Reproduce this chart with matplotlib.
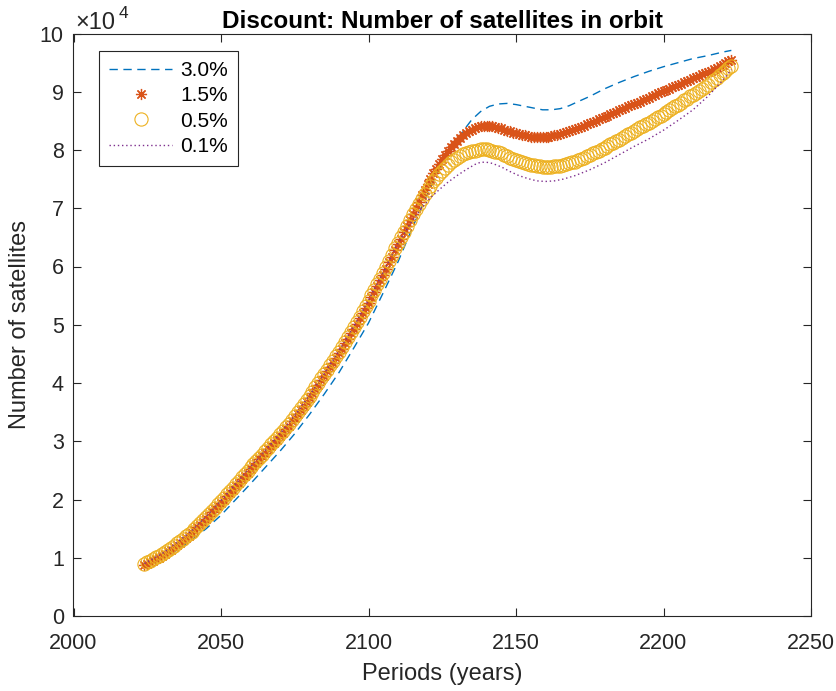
import numpy as np
import matplotlib
matplotlib.use("Agg")
import matplotlib.pyplot as plt

plt.rcParams['font.family'] = ['Liberation Sans', 'DejaVu Sans']

# ---------------- data (values in units of 1e4 satellites) ----------------
years = list(range(2024, 2224))

disc_15 = [
    0.87, 0.89, 0.92, 0.95, 0.98, 1.00, 1.03, 1.07, 1.11, 1.14, 1.18, 1.22, 1.26, 1.30, 1.34, 1.38,
    1.42, 1.47, 1.52, 1.57, 1.62, 1.67, 1.72, 1.78, 1.83, 1.89, 1.94, 2.00, 2.06, 2.11, 2.17, 2.23,
    2.29, 2.35, 2.40, 2.46, 2.52, 2.58, 2.63, 2.69, 2.74, 2.80, 2.86, 2.92, 2.97, 3.03, 3.09, 3.15,
    3.21, 3.27, 3.34, 3.40, 3.47, 3.54, 3.61, 3.68, 3.75, 3.82, 3.90, 3.97, 4.05, 4.12, 4.20, 4.28,
    4.35, 4.43, 4.51, 4.59, 4.68, 4.76, 4.85, 4.93, 5.02, 5.11, 5.20, 5.29, 5.38, 5.48, 5.57, 5.67,
    5.76, 5.86, 5.96, 6.07, 6.17, 6.28, 6.38, 6.48, 6.59, 6.69, 6.80, 6.90, 7.01, 7.11, 7.22, 7.32,
    7.42, 7.51, 7.60, 7.68, 7.76, 7.84, 7.91, 7.98, 8.05, 8.11, 8.16,
    8.21, 8.25, 8.29, 8.32, 8.35,
    8.38, 8.40, 8.41, 8.42, 8.42, 8.42, 8.41, 8.40, 8.38, 8.37, 8.35, 8.33, 8.32, 8.30, 8.29, 8.27,
    8.26, 8.25, 8.24, 8.23, 8.22, 8.22, 8.22, 8.22, 8.22, 8.23, 8.24, 8.25, 8.26, 8.27, 8.29, 8.31,
    8.32, 8.34, 8.36, 8.38, 8.40, 8.42, 8.44, 8.46, 8.48, 8.50, 8.53, 8.55, 8.57, 8.59, 8.61, 8.64,
    8.66, 8.68, 8.70, 8.72, 8.75, 8.77, 8.79, 8.81, 8.83, 8.86, 8.88, 8.90, 8.92, 8.94, 8.97, 8.99,
    9.01, 9.03, 9.05, 9.08, 9.10, 9.12, 9.14, 9.16, 9.19, 9.21, 9.23, 9.25, 9.27, 9.30, 9.32, 9.34,
    9.36, 9.39, 9.41, 9.44, 9.46, 9.49, 9.52, 9.55,
]

disc_05 = [
    0.90, 0.92, 0.95, 0.98, 1.01, 1.03, 1.06, 1.10, 1.14, 1.17, 1.21, 1.25, 1.29, 1.33, 1.37, 1.41,
    1.45, 1.50, 1.55, 1.60, 1.65, 1.70, 1.75, 1.81, 1.86, 1.92, 1.97, 2.03, 2.09, 2.14, 2.20, 2.26,
    2.32, 2.38, 2.43, 2.49, 2.55, 2.61, 2.66, 2.72, 2.77, 2.83, 2.89, 2.95, 3.00, 3.06, 3.12, 3.18,
    3.24, 3.30, 3.37, 3.43, 3.50, 3.57, 3.64, 3.71, 3.78, 3.85, 3.93, 4.00, 4.08, 4.15, 4.23, 4.31,
    4.38, 4.46, 4.54, 4.62, 4.71, 4.79, 4.88, 4.96, 5.05, 5.14, 5.23, 5.32, 5.41, 5.51, 5.60, 5.70,
    5.79, 5.89, 5.99, 6.10, 6.20, 6.31, 6.41, 6.50, 6.60, 6.70, 6.80, 6.90, 6.99, 7.08, 7.16, 7.24,
    7.32, 7.39, 7.46, 7.52, 7.58, 7.64, 7.69, 7.74, 7.79, 7.83, 7.87,
    7.90, 7.93, 7.95, 7.97, 7.98,
    7.99, 8.00, 8.01, 8.01, 8.01, 8.00, 7.99, 7.97, 7.96, 7.94, 7.92, 7.89, 7.87, 7.85, 7.83, 7.81,
    7.79, 7.78, 7.76, 7.75, 7.74, 7.73, 7.72, 7.71, 7.71, 7.71, 7.71, 7.72, 7.72, 7.73, 7.74, 7.76,
    7.77, 7.79, 7.80, 7.82, 7.84, 7.86, 7.89, 7.91, 7.94, 7.96, 7.99, 8.01, 8.04, 8.07, 8.10, 8.12,
    8.15, 8.18, 8.21, 8.24, 8.27, 8.30, 8.33, 8.36, 8.39, 8.41, 8.44, 8.47, 8.50, 8.53, 8.56, 8.59,
    8.62, 8.65, 8.68, 8.72, 8.75, 8.78, 8.81, 8.85, 8.88, 8.92, 8.95, 8.98, 9.02, 9.05, 9.09, 9.12,
    9.16, 9.20, 9.24, 9.28, 9.32, 9.36, 9.41, 9.45,
]

years_30 = [2024, 2030, 2035, 2040, 2045, 2050, 2055, 2060, 2065, 2070, 2075, 2080, 2085, 2090,
            2095, 2100, 2105, 2110, 2115, 2120, 2123, 2126, 2129, 2132, 2135, 2138, 2141, 2144,
            2147, 2150, 2153, 2156, 2159, 2162, 2165, 2168, 2171, 2175, 2180, 2185, 2190, 2195,
            2200, 2205, 2210, 2215, 2220, 2223]
disc_30 = [0.84, 0.98, 1.13, 1.30, 1.50, 1.73, 2.00, 2.27, 2.55, 2.83, 3.13, 3.46, 3.81, 4.18,
           4.60, 5.03, 5.55, 6.08, 6.68, 7.25, 7.58, 7.86, 8.10, 8.32, 8.52, 8.66, 8.75, 8.79,
           8.80, 8.78, 8.75, 8.72, 8.69, 8.69, 8.71, 8.76, 8.83, 8.92, 9.05, 9.16, 9.26, 9.35,
           9.43, 9.50, 9.57, 9.62, 9.68, 9.71]

years_01 = [2024, 2030, 2035, 2040, 2045, 2050, 2055, 2060, 2065, 2070, 2075, 2080, 2085, 2090,
            2095, 2100, 2105, 2110, 2115, 2118, 2121, 2124, 2127, 2130, 2133, 2136, 2138, 2140,
            2142, 2145, 2148, 2151, 2154, 2157, 2160, 2163, 2166, 2170, 2175, 2180, 2185, 2190,
            2195, 2200, 2205, 2210, 2215, 2220, 2223]
disc_01 = [0.90, 1.07, 1.26, 1.46, 1.71, 1.98, 2.27, 2.56, 2.84, 3.13, 3.44, 3.79, 4.16, 4.55,
           4.97, 5.42, 5.90, 6.40, 6.80, 7.00, 7.18, 7.32, 7.45, 7.56, 7.66, 7.75, 7.79, 7.79,
           7.77, 7.71, 7.63, 7.56, 7.51, 7.47, 7.46, 7.47, 7.50, 7.56, 7.66, 7.78, 7.92, 8.06,
           8.19, 8.34, 8.51, 8.69, 8.92, 9.19, 9.38]

labels = ['3.0%', '1.5%', '0.5%', '0.1%']
scale = 1e4

# ---------------- figure ----------------
W, H = 837, 691
fig = plt.figure(figsize=(W / 100, H / 100), dpi=100)
ax_l, ax_r, ax_t, ax_b = 73.5, 811.0, 33.5, 616.0
ax = fig.add_axes([ax_l / W, 1 - ax_b / H, (ax_r - ax_l) / W, (ax_b - ax_t) / H])

c_blue = '#0072BD'
c_orange = '#D95319'
c_yellow = '#EDB120'
c_purple = '#7E2F8E'

ax.plot(years_30, np.array(disc_30) * scale, linestyle=(0, (6, 4)), color=c_blue,
        linewidth=1.0, label=labels[0])
ax.plot(years, np.array(disc_15) * scale, linestyle='none', marker=(8, 2, 0), markersize=8,
        markeredgewidth=0.9, color=c_orange, label=labels[1])
ax.plot(years, np.array(disc_05) * scale, linestyle='none', marker='o', markersize=9.5,
        markerfacecolor='none', markeredgewidth=0.8, markeredgecolor=c_yellow, label=labels[2])
ax.plot(years_01, np.array(disc_01) * scale, linestyle=(0, (1, 2)), color=c_purple,
        linewidth=1.0, label=labels[3])

ax.set_xlim(2000, 2250)
ax.set_ylim(0, 10e4)
ax.set_xticks(np.arange(2000, 2251, 50))
ax.set_yticks(np.arange(0, 10.5e4, 1e4))
ax.set_yticklabels([str(int(v)) for v in range(0, 11)])

axcol = '#262626'
for s in ax.spines.values():
    s.set_color(axcol)
    s.set_linewidth(0.8)
ax.tick_params(direction='in', length=5.8, width=0.8, color=axcol, top=True, right=True,
               labelsize=15.5, labelcolor=axcol)
ax.tick_params(axis='x', pad=12.5)
ax.tick_params(axis='y', pad=7)

ax.set_xlabel('Periods (years)', fontsize=17, color=axcol, labelpad=6)
ax.set_ylabel('Number of satellites', fontsize=17, color=axcol, labelpad=6)
ax.set_title('Discount: Number of satellites in orbit', fontsize=17.5, fontweight='bold',
             color='black', pad=4)

# exponent label
fig.text(75 / W, 1 - 29 / H, '\u00d710', fontsize=17, color=axcol, ha='left', va='baseline')
fig.text(119 / W, 1 - 18 / H, '4', fontsize=12.5, color=axcol, ha='left', va='baseline')

leg = ax.legend(loc='upper left', bbox_to_anchor=((99 - ax_l) / (ax_r - ax_l), 1 - (50.7 - ax_t) / (ax_b - ax_t)),
                borderaxespad=0, fontsize=15, handlelength=3.0, handletextpad=0.4,
                borderpad=0.5, labelspacing=0.3, fancybox=False, framealpha=1,
                edgecolor=axcol)
leg.get_frame().set_linewidth(0.8)

fig.savefig('out.png', dpi=100)
